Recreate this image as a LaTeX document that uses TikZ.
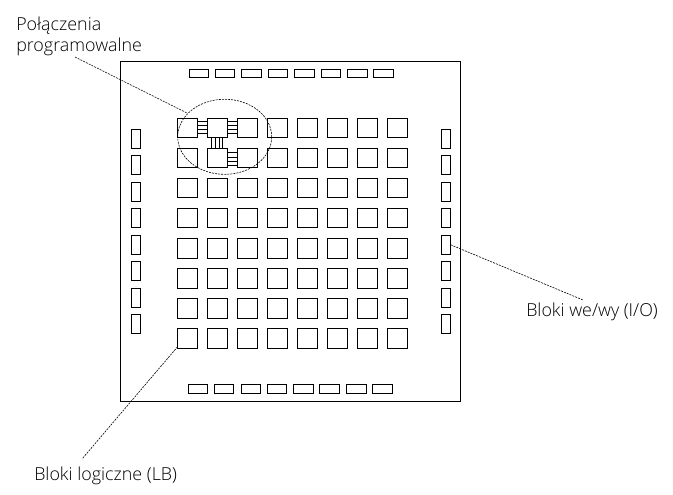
\documentclass[tikz,border=0pt]{standalone}
\usetikzlibrary{shapes.geometric}
\usepackage{fontspec}
\setmainfont{Open Sans Light}
\tikzset{
  px/.style={x=0.75pt,y=-0.75pt},
  box/.style={draw=black,line width=0.75pt,inner sep=0pt,outer sep=0pt},
  lb/.style={box,minimum width=14.6pt,minimum height=14.6pt},
  iov/.style={box,minimum width=7pt,minimum height=14.4pt},
  ioh/.style={box,minimum width=14.4pt,minimum height=6.7pt},
  wire/.style={line width=0.6pt},
  leader/.style={line width=0.45pt,dash pattern=on 1.5pt off 0.8pt},
  lab/.style={font=\fontsize{13.4pt}{15pt}\selectfont,inner sep=0pt,text=black}
}
\begin{document}
\begin{tikzpicture}[px]
\useasboundingbox (0,0) rectangle (673,494);
\node[box,minimum width=255pt,minimum height=255pt] (chip) at (290.5,231.5) {};
\foreach \c/\x in {1/187.3,2/217.3,3/247.3,4/277.3,5/307.3,6/337.3,7/367.3,8/397.3}
  \foreach \r/\y in {1/128,2/158,3/188,4/218,5/248.7,6/278.7,7/308.7,8/338.7}
    \node[lb] (lb\c\r) at (\x,\y) {};
\foreach \i/\y in {1/138.8,2/164.8,3/191.8,4/217.8,5/244.8,6/270.8,7/297.8,8/323.8}{
  \node[iov] (iol\i) at (136,\y) {};
  \node[iov] (ior\i) at (446,\y) {};
}
\foreach \i/\x in {1/199,2/225,3/251.5,4/278,5/304.5,6/331,7/357.5,8/383.5}
  \node[ioh] (iot\i) at (\x,73.5) {};
\foreach \i/\x in {1/198,2/224,3/251,4/277,5/303.5,6/329.5,7/356.5,8/382.5}
  \node[ioh] (iob\i) at (\x,388.8) {};
\foreach \d in {-6.7,-2.7,1.3,5.3}{
  \draw[wire] ([yshift={-\d*0.75pt}]lb11.east) -- ([yshift={-\d*0.75pt}]lb21.west);
  \draw[wire] ([yshift={-\d*0.75pt}]lb21.east) -- ([yshift={-\d*0.75pt}]lb31.west);
}
\foreach \d in {-5.3,-1,3.3,7.3}
  \draw[wire] ([yshift={-\d*0.75pt}]lb22.east) -- ([yshift={-\d*0.75pt}]lb32.west);
\foreach \d in {-5.6,-2,1.7,5.4}
  \draw[wire] ([xshift={\d*0.75pt}]lb21.south) -- ([xshift={\d*0.75pt}]lb22.north);
\node[draw=black,leader,ellipse,inner sep=0pt,minimum width=70.5pt,minimum height=56.3pt] (circ) at (224.7,136.8) {};
\node[lab,anchor=base west] (t1) at (16,30) {Połączenia};
\node[lab,anchor=base west] (t2) at (16,51.5) {programowalne};
\node[lab,anchor=base west] (t3) at (526,316.5) {Bloki we/wy (I/O)};
\node[lab,anchor=base west] (t4) at (34,480) {Bloki logiczne (LB)};
\coordinate (c1) at (75,57);
\coordinate (c2) at (187,113);
\coordinate (c3) at (583,300);
\coordinate (c4) at (82,459);
\draw[leader] (c1) -- (c2);
\draw[leader] (ior5.east) -- (c3);
\draw[leader] ([yshift=-6pt]lb18.west) -- (c4);
\end{tikzpicture}
\end{document}
